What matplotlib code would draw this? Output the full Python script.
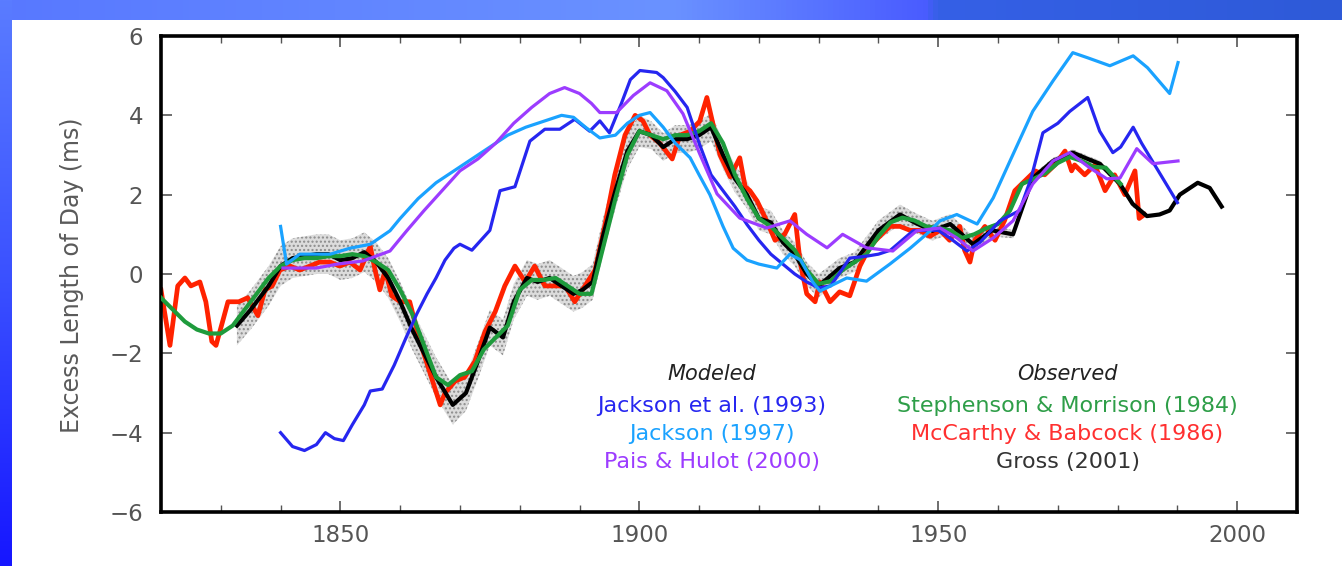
import numpy as np
import matplotlib
matplotlib.use("Agg")
import matplotlib.pyplot as plt
from matplotlib.colors import LinearSegmentedColormap

# --- observed series -------------------------------------------------------
# McCarthy & Babcock (1986)
mb_years = [1820, 1821.5, 1822.8, 1824, 1825, 1826.5, 1827.5, 1828.5, 1829.2, 1830.3,
            1831.2, 1833, 1834.5, 1836.2, 1837.4, 1838.6, 1839.9, 1841.6, 1843.2, 1844.9,
            1846.5, 1848.3, 1849.9, 1851.6, 1853.3, 1855, 1855.8, 1856.6, 1857.5, 1858.6,
            1860, 1861.6, 1863.3, 1865, 1866.7, 1867.5, 1869.2, 1870.8, 1872.5, 1874.2,
            1875.9, 1877.5, 1879.2, 1880.9, 1882.5, 1884.2, 1885.9, 1887.6, 1889.2, 1890.9,
            1892.6, 1894.2, 1895.9, 1897.6, 1899.3, 1900.6, 1901.8, 1903.4, 1905.5, 1906.8,
            1908.5, 1910.1, 1911.3, 1912.6, 1913.5, 1915.2, 1916.8, 1917.7, 1918.5, 1919.7,
            1921.3, 1922.7, 1924.3, 1926, 1926.9, 1928, 1929.4, 1930.2, 1931.9, 1933.5,
            1935.2, 1936.9, 1938.6, 1940.2, 1941.9, 1943.6, 1945.3, 1946.9, 1948.6, 1950.3,
            1951.9, 1953.6, 1954.4, 1955.3, 1956.1, 1957.8, 1959.5, 1961.1, 1962.8, 1964.5,
            1966.2, 1967.8, 1969.5, 1971.2, 1972.3, 1972.8, 1974.5, 1976.2, 1977.9, 1979.5,
            1981.2, 1982.9, 1983.6, 1984.5]
mb_lod = [-0.4, -1.8, -0.3, -0.1, -0.3, -0.2, -0.7, -1.7, -1.8, -1.2,
          -0.7, -0.7, -0.6, -1.05, -0.4, -0.3, 0.1, 0.2, 0.1, 0.2,
          0.3, 0.3, 0.2, 0.3, 0.1, 0.7, 0.1, -0.4, 0.1, -0.55,
          -0.7, -0.7, -1.7, -2.5, -3.3, -3.0, -2.7, -2.6, -2.2, -1.45,
          -0.95, -0.3, 0.2, -0.2, 0.2, -0.3, -0.3, -0.3, -0.7, -0.3,
          0.1, 1.2, 2.5, 3.5, 4.0, 3.86, 3.5, 3.3, 2.9, 3.5,
          3.6, 3.85, 4.45, 3.6, 3.0, 2.45, 2.93, 2.2, 2.1, 1.84,
          1.34, 0.85, 1.0, 1.5, 0.3, -0.5, -0.7, -0.2, -0.7, -0.45,
          -0.55, 0.2, 0.7, 0.95, 1.2, 1.2, 1.1, 1.1, 0.95, 1.1,
          0.85, 1.2, 0.6, 0.3, 0.85, 1.2, 0.85, 1.35, 2.1, 2.35,
          2.6, 2.5, 2.75, 3.1, 2.6, 2.75, 2.5, 2.75, 2.1, 2.5,
          2.0, 2.6, 1.4, 1.5]

# Gross (2001) with its uncertainty half-width
gross_years = [1832.7, 1835, 1838, 1840, 1842, 1844, 1846, 1848, 1850, 1852,
               1854, 1856, 1858, 1860, 1862, 1864, 1866, 1868.8, 1871, 1873,
               1875, 1877.2, 1879, 1881.2, 1883, 1885, 1887, 1889, 1890.5, 1892.2,
               1894, 1896, 1898, 1900, 1902, 1904, 1906, 1908, 1910, 1912,
               1914, 1916, 1918, 1920, 1922, 1924, 1926, 1928, 1930, 1933.5,
               1936, 1938, 1940, 1943.6, 1946, 1949, 1952, 1955.8, 1959, 1962.5,
               1965.8, 1969.2, 1972.5, 1975, 1977, 1980.4, 1982.5, 1984.9, 1987, 1988.7,
               1990.4, 1993.4, 1995.4, 1997.4]
gross_lod = [-1.3, -0.9, -0.3, 0.2, 0.4, 0.45, 0.5, 0.5, 0.35, 0.4,
             0.55, 0.3, -0.1, -0.7, -1.4, -2.0, -2.6, -3.3, -3.0, -2.2,
             -1.35, -1.6, -0.7, -0.1, -0.2, -0.1, -0.3, -0.5, -0.4, -0.2,
             1.0, 2.1, 3.1, 3.6, 3.5, 3.2, 3.4, 3.4, 3.5, 3.7,
             3.0, 2.4, 2.0, 1.4, 1.3, 0.8, 0.5, 0.0, -0.3, 0.15,
             0.3, 0.7, 1.1, 1.5, 1.3, 1.09, 1.26, 0.75, 1.1, 1.0,
             2.42, 2.85, 3.06, 2.9, 2.78, 2.27, 1.77, 1.46, 1.5, 1.6,
             2.0, 2.3, 2.17, 1.7]
gross_err = [0.5, 0.5, 0.5, 0.5, 0.5, 0.5, 0.5, 0.5, 0.5, 0.5,
             0.5, 0.5, 0.5, 0.5, 0.5, 0.5, 0.5, 0.5, 0.45, 0.45,
             0.45, 0.45, 0.45, 0.45, 0.45, 0.45, 0.45, 0.45, 0.45, 0.45,
             0.45, 0.45, 0.45, 0.4, 0.35, 0.35, 0.35, 0.35, 0.35, 0.35,
             0.35, 0.35, 0.35, 0.3, 0.3, 0.3, 0.3, 0.3, 0.3, 0.25,
             0.25, 0.25, 0.25, 0.25, 0.25, 0.25, 0.25, 0.2, 0.15, 0.1,
             0.08, 0.08, 0.08, 0.08, 0.08, 0.08, 0.08, 0.0, 0.0, 0.0,
             0.0, 0.0, 0.0, 0.0]

# Stephenson & Morrison (1984)
sm_years = [1820, 1822, 1824, 1826, 1828, 1830, 1832, 1834, 1836, 1838,
            1840, 1842, 1844, 1846, 1848, 1850, 1852, 1854, 1856, 1858,
            1860, 1862, 1864, 1866, 1868, 1870, 1872, 1874, 1876, 1878,
            1880, 1882, 1884, 1886, 1888, 1890, 1892, 1894, 1896, 1898,
            1900, 1902, 1904, 1906, 1908, 1910, 1912, 1914, 1916, 1918,
            1920, 1922, 1924, 1926, 1928, 1930, 1932, 1934, 1936, 1938,
            1940, 1942, 1944, 1946, 1948, 1950, 1952, 1954, 1956, 1958,
            1960, 1962, 1964, 1966, 1968, 1970, 1972, 1974, 1976, 1978,
            1980.5]
sm_lod = [-0.6, -0.9, -1.2, -1.4, -1.5, -1.5, -1.3, -0.9, -0.5, -0.1,
          0.2, 0.35, 0.4, 0.4, 0.45, 0.45, 0.5, 0.45, 0.3, 0.1,
          -0.4, -1.0, -1.8, -2.6, -2.8, -2.55, -2.45, -1.9, -1.6, -1.3,
          -0.4, -0.15, -0.15, -0.1, -0.3, -0.5, -0.5, 0.7, 1.9, 3.0,
          3.6, 3.5, 3.4, 3.5, 3.5, 3.6, 3.8, 3.3, 2.5, 1.9,
          1.4, 1.2, 0.9, 0.6, 0.1, -0.25, -0.18, 0.1, 0.3, 0.5,
          0.95, 1.3, 1.42, 1.35, 1.2, 1.16, 1.1, 0.91, 1.0, 1.15,
          1.26, 1.6, 2.27, 2.4, 2.55, 2.8, 2.95, 2.85, 2.7, 2.68,
          2.27]

# --- core-flow models ------------------------------------------------------
# Jackson et al. (1993)
j93_years = [1840, 1842, 1844, 1846, 1847.5, 1849, 1850.5, 1852, 1854, 1855,
             1857, 1859, 1861, 1862.8, 1864.5, 1866, 1867.5, 1869, 1870, 1872,
             1875, 1876.7, 1879.2, 1881.7, 1884.2, 1886.7, 1889.2, 1891.7, 1893.4, 1895,
             1897, 1898.5, 1900.1, 1902.9, 1904, 1906, 1908, 1910, 1912, 1914,
             1916, 1918, 1920, 1922, 1924, 1926, 1928, 1930, 1932, 1935.2,
             1938, 1940, 1942, 1945.8, 1948, 1950, 1952, 1954.8, 1957, 1960.3,
             1963.6, 1965.5, 1967.5, 1970, 1972, 1975, 1977, 1979.2, 1980.5, 1982.6,
             1984, 1986, 1988, 1990]
j93_lod = [-4.0, -4.35, -4.45, -4.3, -4.0, -4.15, -4.2, -3.8, -3.3, -2.95,
           -2.9, -2.3, -1.6, -1.0, -0.5, -0.1, 0.35, 0.65, 0.75, 0.6,
           1.1, 2.1, 2.2, 3.35, 3.65, 3.65, 3.9, 3.6, 3.86, 3.56,
           4.3, 4.9, 5.13, 5.08, 4.95, 4.6, 4.2, 3.3, 2.5, 2.1,
           1.7, 1.25, 0.85, 0.5, 0.25, 0.0, -0.2, -0.35, -0.3, 0.4,
           0.45, 0.5, 0.6, 1.09, 1.1, 1.1, 0.9, 0.58, 0.8, 1.34,
           1.6, 2.4, 3.56, 3.8, 4.1, 4.45, 3.6, 3.06, 3.2, 3.7,
           3.3, 2.8, 2.3, 1.8]

# Jackson (1997)
j97_years = [1840, 1841, 1843.2, 1848.3, 1851.6, 1855, 1858.3, 1860, 1863, 1866,
             1869, 1872, 1875, 1878, 1881, 1884, 1887, 1889, 1891, 1893.4,
             1896, 1898, 1900, 1901.8, 1904, 1906, 1908.5, 1910, 1911.8, 1914,
             1915.7, 1918, 1920, 1923, 1925.2, 1927, 1929, 1930.2, 1932, 1934.7,
             1938, 1941.9, 1945.3, 1948, 1950.3, 1953.1, 1956.5, 1959.2, 1962, 1965.8,
             1969.2, 1972.5, 1975, 1978.7, 1982.6, 1985, 1988.7, 1990.1]
j97_lod = [1.2, 0.25, 0.5, 0.5, 0.65, 0.75, 1.09, 1.4, 1.9, 2.3,
           2.6, 2.9, 3.2, 3.5, 3.7, 3.85, 4.0, 3.95, 3.7, 3.43,
           3.5, 3.8, 4.0, 4.07, 3.7, 3.3, 2.93, 2.5, 2.0, 1.2,
           0.65, 0.35, 0.25, 0.15, 0.5, 0.35, -0.2, -0.43, -0.3, -0.1,
           -0.18, 0.25, 0.65, 1.0, 1.34, 1.5, 1.26, 1.92, 2.85, 4.1,
           4.87, 5.58, 5.45, 5.25, 5.5, 5.2, 4.55, 5.33]

# Pais & Hulot (2000)
ph_years = [1840.4, 1846, 1849.5, 1853.8, 1858.3, 1861.1, 1864, 1867, 1870, 1873,
            1876, 1879, 1882, 1885, 1887.5, 1890, 1892, 1893.4, 1896.2, 1899,
            1901.8, 1904.6, 1907.3, 1910.1, 1913, 1916.8, 1921.3, 1925.2, 1928, 1931.4,
            1934, 1938, 1942.4, 1946.4, 1950.3, 1953.1, 1955.8, 1959.2, 1962.5, 1965.8,
            1969.2, 1972, 1975.3, 1978.2, 1980.4, 1983.2, 1985.9, 1990.1]
ph_lod = [0.15, 0.15, 0.25, 0.33, 0.58, 1.09, 1.6, 2.1, 2.6, 2.9,
          3.3, 3.8, 4.2, 4.55, 4.7, 4.55, 4.3, 4.07, 4.07, 4.5,
          4.82, 4.62, 4.04, 3.03, 2.02, 1.41, 1.16, 1.34, 1.0, 0.66,
          1.0, 0.66, 0.58, 1.09, 1.16, 0.91, 0.58, 0.91, 1.34, 2.27,
          2.85, 3.06, 2.68, 2.4, 2.42, 3.16, 2.78, 2.85]

modeled_labels = ["Jackson et al. (1993)", "Jackson (1997)", "Pais & Hulot (2000)"]
observed_labels = ["Stephenson & Morrison (1984)", "McCarthy & Babcock (1986)", "Gross (2001)"]

c_red, c_green, c_black = "#ff2200", "#1e9b3c", "#000000"
c_blue, c_lblue, c_purple = "#2626f0", "#1aa2ff", "#9c3cff"

W, H = 1342, 566
fig = plt.figure(figsize=(W / 100, H / 100), dpi=100)
fig.patch.set_facecolor("white")

# blue slide border (top and left strips)
bg = fig.add_axes([0, 0, 1, 1], zorder=-5)
bg.axis("off")
top_cmap = LinearSegmentedColormap.from_list(
    "top", [(0, "#5878ff"), (0.5, "#6a92ff"), (0.69, "#4a5cff"), (0.7, "#3560e6"), (1, "#2e5ad8")])
left_cmap = LinearSegmentedColormap.from_list("left", ["#5a7cff", "#3a50ff", "#1616ff"])
bg.imshow(np.linspace(0, 1, 256)[None, :], cmap=top_cmap, aspect="auto",
          extent=(0, W, 20, 0))
bg.imshow(np.linspace(0, 1, 256)[:, None], cmap=left_cmap, aspect="auto",
          extent=(0, 12, H, 0))
bg.set_xlim(0, W)
bg.set_ylim(H, 0)

ax = fig.add_axes([161 / W, 1 - 512 / H, (1297 - 161) / W, (512 - 36) / H])

g_years = np.array(gross_years)
g_lod = np.array(gross_lod)
g_err = np.array(gross_err)
ax.fill_between(g_years, g_lod - g_err, g_lod + g_err, facecolor="#dcdcdc",
                edgecolor="#8c8c8c", hatch="....", linewidth=0, zorder=1)

ax.plot(mb_years, mb_lod, color=c_red, lw=3.4, zorder=2, solid_joinstyle="round")
ax.plot(gross_years, gross_lod, color=c_black, lw=3.0, zorder=3, solid_joinstyle="round")
ax.plot(sm_years, sm_lod, color=c_green, lw=3.0, zorder=4, solid_joinstyle="round")
ax.plot(j93_years, j93_lod, color=c_blue, lw=2.3, zorder=5, solid_joinstyle="round")
ax.plot(j97_years, j97_lod, color=c_lblue, lw=2.3, zorder=6, solid_joinstyle="round")
ax.plot(ph_years, ph_lod, color=c_purple, lw=2.3, zorder=7, solid_joinstyle="round")

ax.set_xlim(1820, 2010)
ax.set_ylim(-6, 6)
ax.set_xticks([1850, 1900, 1950, 2000])
ax.set_xticks(np.arange(1830, 2010, 10), minor=True)
ax.set_yticks(np.arange(-6, 7, 2))
for s in ax.spines.values():
    s.set_linewidth(2.6)
ax.tick_params(axis="both", which="major", direction="in", top=True, right=True,
               length=8, width=1.2, color="#555555", labelsize=16.5, labelcolor="#555555")
ax.tick_params(axis="x", which="minor", direction="in", top=True,
               length=5, width=1.0, color="#555555")
ax.tick_params(axis="x", which="major", pad=9)
ax.tick_params(axis="y", which="major", pad=13)

fig.text(72 / W, 1 - 275 / H, "Excess Length of Day (ms)", rotation=90,
         ha="center", va="center", fontsize=17, color="#5a5a5a")

# model / observation key
ax.text(0.485, 0.29, "Modeled", transform=ax.transAxes, ha="center", va="center",
        fontsize=15, style="italic", color="#222222")
ax.text(0.798, 0.29, "Observed", transform=ax.transAxes, ha="center", va="center",
        fontsize=15, style="italic", color="#222222")
for lab, col, yy in zip(modeled_labels, [c_blue, c_lblue, c_purple], [0.223, 0.164, 0.105]):
    ax.text(0.485, yy, lab, transform=ax.transAxes, ha="center", va="center",
            fontsize=16, color=col)
for lab, col, yy in zip(observed_labels, ["#2e9e48", "#ff3030", "#333333"], [0.223, 0.164, 0.105]):
    ax.text(0.798, yy, lab, transform=ax.transAxes, ha="center", va="center",
            fontsize=16, color=col)

fig.savefig("out.png", dpi=100)
